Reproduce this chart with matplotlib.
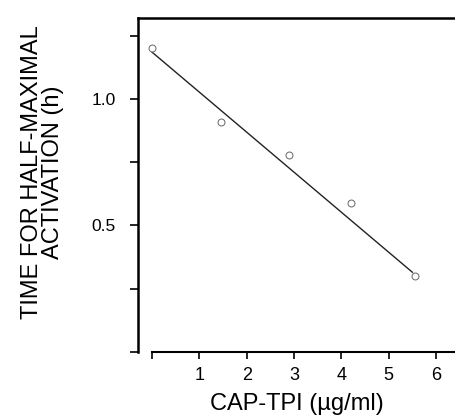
import matplotlib.pyplot as plt

# CAP-TPI concentration vs time for half-maximal activation
conc = [0.0, 1.45, 2.9, 4.2, 5.55]
t_half = [1.20, 0.91, 0.78, 0.59, 0.30]

fit_x = [0.0, 5.5]
fit_y = [1.185, 0.315]

yticks = [0.0, 0.25, 0.5, 0.75, 1.0, 1.25]
ytick_labels = ['', '', '0.5', '', '1.0', '']
xticks = [0, 1, 2, 3, 4, 5, 6]
xtick_labels = ['', '1', '2', '3', '4', '5', '6']

plt.rcParams['font.family'] = ['Liberation Sans', 'DejaVu Sans']

fig = plt.figure(figsize=(4.55, 4.19), dpi=100)
ax = fig.add_axes([0.303, 0.16, 0.697, 0.797])

ax.plot(fit_x, fit_y, color='#222222', lw=1.0)
ax.plot(conc, t_half, 'o', ms=5, mfc='white', mec='#666666', mew=0.7)

ax.set_xlim(-0.3, 6.4)
ax.set_ylim(0, 1.32)

ax.spines['right'].set_visible(False)
ax.spines['left'].set_bounds(0, 1.32)
ax.spines['bottom'].set_bounds(0, 6.4)
ax.spines['left'].set_linewidth(1.8)
ax.spines['top'].set_linewidth(1.8)
ax.spines['bottom'].set_linewidth(1.5)

ax.set_yticks(yticks)
ax.set_yticklabels(ytick_labels, fontsize=12.5)
ax.set_xticks(xticks)
ax.set_xticklabels(xtick_labels, fontsize=13)
ax.tick_params(axis='y', direction='out', length=6, width=1.2, pad=10)
ax.tick_params(axis='x', direction='out', length=5, width=1.2, pad=6)

ax.set_xlabel('CAP-TPI (µg/ml)', fontsize=17, labelpad=6)
fig.text(0.093, 1 - 172 / 419, 'TIME FOR HALF-MAXIMAL\nACTIVATION (h)',
         rotation=90, ha='center', va='center', fontsize=17,
         multialignment='center', linespacing=0.95)

fig.savefig('out.png', dpi=100)
